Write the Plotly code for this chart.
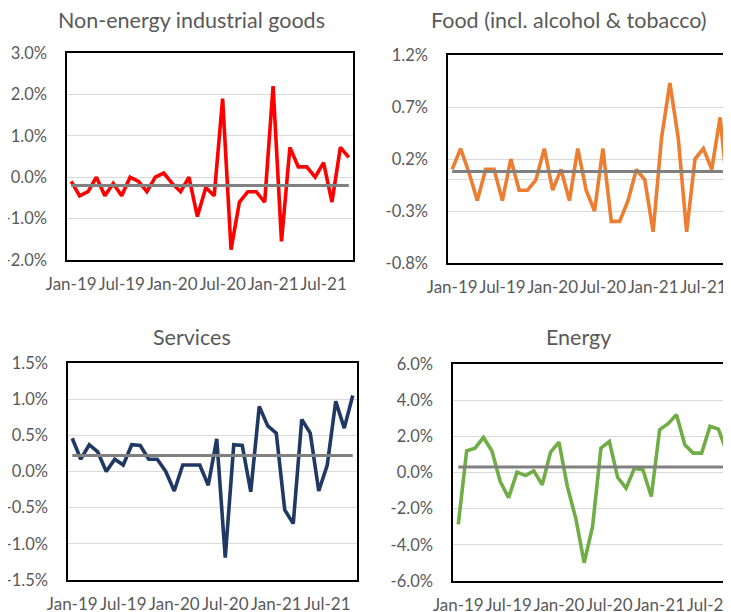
import plotly.graph_objects as go

months = ["Jan-19", "Feb-19", "Mar-19", "Apr-19", "May-19", "Jun-19", "Jul-19", "Aug-19",
          "Sep-19", "Oct-19", "Nov-19", "Dec-19", "Jan-20", "Feb-20", "Mar-20", "Apr-20",
          "May-20", "Jun-20", "Jul-20", "Aug-20", "Sep-20", "Oct-20", "Nov-20", "Dec-20",
          "Jan-21", "Feb-21", "Mar-21", "Apr-21", "May-21", "Jun-21", "Jul-21", "Aug-21",
          "Sep-21", "Oct-21"]
tick_labels = ["Jan-19", "Jul-19", "Jan-20", "Jul-20", "Jan-21", "Jul-21"]

neig = [-0.1, -0.45, -0.35, 0.0, -0.45, -0.15, -0.45, 0.0, -0.1, -0.35, 0.0, 0.1,
        -0.15, -0.35, 0.0, -0.95, -0.25, -0.45, 1.9, -1.75, -0.6, -0.35, -0.35, -0.6,
        2.2, -1.55, 0.72, 0.25, 0.25, 0.0, 0.35, -0.6, 0.72, 0.48]
food = [0.1, 0.3, 0.07, -0.2, 0.1, 0.1, -0.2, 0.2, -0.1, -0.1, 0.0, 0.3,
        -0.1, 0.1, -0.2, 0.3, -0.1, -0.3, 0.3, -0.4, -0.4, -0.2, 0.1, 0.0,
        -0.5, 0.4, 0.93, 0.4, -0.5, 0.2, 0.3, 0.1, 0.6, -0.2]
services = [0.46, 0.17, 0.37, 0.27, 0.0, 0.17, 0.09, 0.37, 0.36, 0.17, 0.17, 0.0,
            -0.27, 0.09, 0.09, 0.09, -0.19, 0.45, -1.19, 0.37, 0.36, -0.28, 0.9, 0.63,
            0.53, -0.53, -0.72, 0.72, 0.53, -0.27, 0.09, 0.97, 0.6, 1.05]
energy = [-2.87, 1.2, 1.35, 1.94, 1.2, -0.5, -1.39, 0.02, -0.17, 0.09, -0.68, 1.13,
          1.68, -0.78, -2.53, -4.99, -3.0, 1.35, 1.72, -0.28, -0.87, 0.24, 0.15, -1.33,
          2.37, 2.7, 3.2, 1.53, 1.07, 1.07, 2.55, 2.4, 1.13, 5.6]

avg_neig = -0.2
avg_food = 0.08
avg_services = 0.22
avg_energy = 0.31

W, H = 731, 612
OFF = 8  # page body margin offset
TXT = "#595959"
FONT = "Lato"

panels = [
    dict(title="Non-energy industrial goods", y=neig, avg=avg_neig, color="#FF0000",
         box=(67, 353, 53, 260), yr=[-2, 3], tv=[-2, -1, 0, 1, 2, 3], xr=[-0.5, 33.5],
         right=True, tx=191, ty=20),
    dict(title="Food (incl. alcohol & tobacco)", y=food, avg=avg_food, color="#ED7D31",
         box=(448, 731, 55, 263), yr=[-0.8, 1.2], tv=[-0.8, -0.3, 0.2, 0.7, 1.2],
         xr=[-0.5, 33.3], right=False, tx=569, ty=20),
    dict(title="Services", y=services, avg=avg_services, color="#203864",
         box=(68, 357, 363, 580), yr=[-1.5, 1.5], tv=[-1.5, -1, -0.5, 0, 0.5, 1, 1.5],
         xr=[-0.5, 33.5], right=True, tx=192, ty=337),
    dict(title="Energy", y=energy, avg=avg_energy, color="#70AD47",
         box=(453, 731, 364, 581), yr=[-6, 6], tv=[-6, -4, -2, 0, 2, 4, 6],
         xr=[-0.63, 32.5], right=False, tx=578, ty=337),
]

fig = go.Figure()
xs = list(range(len(months)))
tick_idx = [months.index(t) for t in tick_labels]


def px_x(v):
    return (v - OFF) / W


def px_y(v):
    return 1 - (v - OFF) / H


for i, p in enumerate(panels):
    n = "" if i == 0 else str(i + 1)
    xa, ya = "x" + n, "y" + n
    fig.add_trace(go.Scatter(x=xs, y=p["y"], mode="lines", xaxis=xa, yaxis=ya,
                             line=dict(color=p["color"], width=3.6), showlegend=False,
                             hoverinfo="skip"))
    fig.add_trace(go.Scatter(x=xs, y=[p["avg"]] * len(xs), mode="lines", xaxis=xa, yaxis=ya,
                             line=dict(color="#808080", width=3), showlegend=False,
                             hoverinfo="skip"))
    l, r, t, b = p["box"]
    fig.layout["xaxis" + n] = dict(
        domain=[px_x(l), px_x(r)], anchor=ya, range=p["xr"], tickmode="array",
        tickvals=tick_idx, ticktext=tick_labels, showgrid=False, zeroline=False,
        showline=True, linecolor="#000000", linewidth=1.5, mirror=True,
        ticks="", ticklabelstandoff=8, automargin=False, tickangle=0,
        tickfont=dict(family=FONT, size=17, color=TXT))
    fig.layout["yaxis" + n] = dict(
        domain=[px_y(b), px_y(t)], anchor=xa, range=p["yr"], tickmode="array",
        tickvals=p["tv"], ticktext=[f"{v:.1f}%" for v in p["tv"]],
        showgrid=True, gridcolor="#D9D9D9", gridwidth=1,
        zeroline=True, zerolinecolor="#D9D9D9", zerolinewidth=1,
        showline=True, linecolor="#000000", linewidth=1.5, mirror=p["right"],
        ticks="", ticklabelstandoff=15, automargin=False,
        tickfont=dict(family=FONT, size=16.5, color=TXT))
    fig.add_annotation(text=p["title"], x=px_x(p["tx"]), y=px_y(p["ty"]), xref="paper",
                       yref="paper", showarrow=False, xanchor="center", yanchor="middle",
                       font=dict(family=FONT, size=21.5, color=TXT))

fig.update_layout(width=W, height=H, margin=dict(l=0, r=0, t=0, b=0, autoexpand=False),
                  paper_bgcolor="white", plot_bgcolor="white")
fig.write_html("out.html")
